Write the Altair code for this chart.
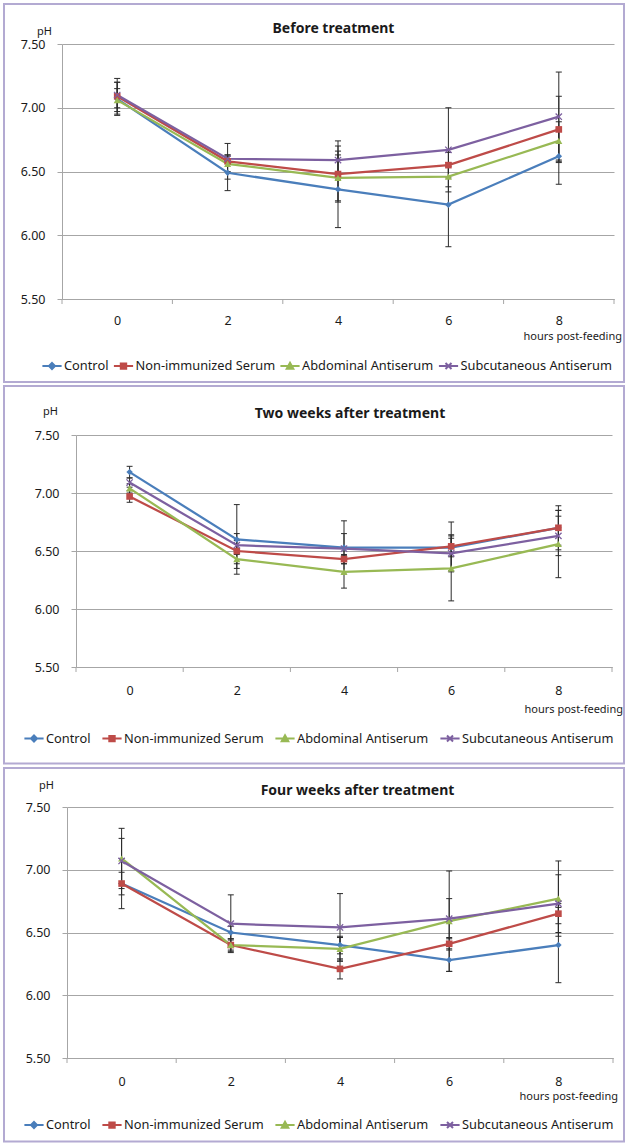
import altair as alt
import pandas as pd

# ---- data -------------------------------------------------------------
HOURS = [0, 2, 4, 6, 8]
SERIES = ["Control", "Non-immunized Serum", "Abdominal Antiserum", "Subcutaneous Antiserum"]
Y_TICKS = [5.5, 6.0, 6.5, 7.0, 7.5]

# mean rumen pH (rows follow SERIES order, columns follow HOURS)
BEFORE_MEAN = [
    [7.07, 6.49, 6.36, 6.24, 6.62],
    [7.09, 6.58, 6.48, 6.55, 6.83],
    [7.06, 6.56, 6.45, 6.46, 6.74],
    [7.10, 6.60, 6.59, 6.67, 6.93],
]
BEFORE_SD = [
    [0.13, 0.14, 0.30, 0.33, 0.22],
    [0.14, 0.14, 0.22, 0.10, 0.26],
    [0.09, 0.06, 0.18, 0.08, 0.15],
    [0.10, 0.03, 0.15, 0.33, 0.35],
]
TWO_WEEKS_MEAN = [
    [7.18, 6.60, 6.53, 6.53, 6.70],
    [6.97, 6.50, 6.43, 6.54, 6.70],
    [7.04, 6.43, 6.32, 6.35, 6.56],
    [7.09, 6.55, 6.52, 6.48, 6.63],
]
TWO_WEEKS_SD = [
    [0.05, 0.30, 0.23, 0.08, 0.15],
    [0.05, 0.15, 0.04, 0.21, 0.19],
    [0.04, 0.04, 0.14, 0.28, 0.29],
    [0.04, 0.04, 0.13, 0.16, 0.17],
]
FOUR_WEEKS_MEAN = [
    [6.89, 6.50, 6.40, 6.28, 6.40],
    [6.89, 6.40, 6.21, 6.41, 6.65],
    [7.09, 6.40, 6.37, 6.59, 6.77],
    [7.07, 6.57, 6.54, 6.61, 6.73],
]
FOUR_WEEKS_SD = [
    [0.09, 0.05, 0.07, 0.09, 0.30],
    [0.20, 0.05, 0.08, 0.05, 0.08],
    [0.24, 0.04, 0.09, 0.40, 0.30],
    [0.18, 0.23, 0.27, 0.16, 0.23],
]
TITLES = ["Before treatment", "Two weeks after treatment", "Four weeks after treatment"]

# ---- styling ----------------------------------------------------------
FONT = "Noto Sans"
COLORS = ["#4a7ebb", "#be4b48", "#98b954", "#7d60a0"]
GRID = "#a6a6a6"
FRAME = "#b3aad2"
ERR = "#2b2b2b"
TEXT = "#1a1a1a"

X_PATH = "M-1,-1L1,1M-1,1L1,-1"
MARKERS = [
    dict(shape="diamond", size=42, filled=True, strokeWidth=0),
    dict(shape="square", size=44, filled=True, strokeWidth=0),
    dict(shape="triangle-up", size=50, filled=True, strokeWidth=0),
    dict(shape=X_PATH, size=40, filled=False, strokeWidth=1.3),
]
# legend glyphs: short line with the series marker in the middle
STUB = "M-1.6,0L1.6,0"
LEGEND_SHAPES = [
    STUB + "M0,-0.5L0.5,0L0,0.5L-0.5,0Z",
    STUB + "M-0.45,-0.45L0.45,-0.45L0.45,0.45L-0.45,0.45Z",
    STUB + "M0,-0.55L0.55,0.45L-0.55,0.45Z",
    STUB + "M-0.5,-0.5L0.5,0.5M-0.5,0.5L0.5,-0.5",
]

BASE_LEFT = 62  # common origin of the stacked panels
# per-panel geometry (pixels relative to each plot area's top-left corner)
LAYOUT = [
    dict(left=62, w=552, h=255, fx0=-58, fx1=562, fy0=-40, fy1=338, tx=271.5, ty=-15.5,
         px=-10, py=-12.5, hx=560, hy=293, xpad=15, lx=-17, ly=315, cpad=0.5),
    dict(left=76, w=536, h=232, fx0=-72, fx1=548, fy0=-49, fy1=328.5, tx=274, ty=-21,
         px=-18, py=-23, hx=547, hy=275, xpad=17, lx=-49, ly=296.5, cpad=7),
    dict(left=67, w=546, h=251, fx0=-63, fx1=557, fy0=-39, fy1=334.5, tx=290.5, ty=-16.5,
         px=-13, py=-21.5, hx=551, hy=290, xpad=17, lx=-40, ly=311, cpad=7),
]


def panel(title, means, sds, g):
    a = g["left"] - BASE_LEFT  # shift of this plot area inside its view
    w, h = g["w"], g["h"]

    rows = []
    for s, m_row, sd_row in zip(SERIES, means, sds):
        for hr, m, sd in zip(HOURS, m_row, sd_row):
            rows.append({"Series": s, "Hours": hr, "pH": m,
                         "lo": round(m - sd, 3), "hi": round(m + sd, 3)})
    df = pd.DataFrame(rows)
    base = alt.Chart(df)

    def xenc(field):
        return alt.X(
            f"{field}:Q",
            scale=alt.Scale(domain=[-1, 9], range=[a, a + w], nice=False, zero=False),
            axis=alt.Axis(values=HOURS, title=None, grid=False, ticks=False,
                          domainColor=GRID, labelFont=FONT, labelFontSize=12.5,
                          labelColor=TEXT, labelAngle=0, labelPadding=g["xpad"]),
        )

    def yenc(field):
        return alt.Y(
            f"{field}:Q",
            scale=alt.Scale(domain=[5.5, 7.5], nice=False, zero=False),
            axis=alt.Axis(values=Y_TICKS, format=".2f", title=None, grid=True,
                          gridColor=GRID, tickColor=GRID, tickSize=5, domainColor=GRID,
                          labelPadding=12, labelFont=FONT, labelFontSize=12.5,
                          labelColor=TEXT, offset=-a),
        )

    def text_layer(label, x, y, size, weight="normal", align="center"):
        return alt.Chart(pd.DataFrame({"label": [label]})).mark_text(
            font=FONT, fontSize=size, fontWeight=weight, align=align,
            baseline="middle", color=TEXT,
        ).encode(text="label:N", x=alt.value(x + a), y=alt.value(y))

    x_ax = xenc("Hours")

    frame = alt.Chart(pd.DataFrame({"k": [0]})).mark_rect(
        fill="transparent", stroke=FRAME, strokeWidth=2
    ).encode(x=alt.value(g["fx0"] + a), x2=alt.value(g["fx1"] + a),
             y=alt.value(g["fy0"]), y2=alt.value(g["fy1"]))

    # tick marks between categories on the x axis
    bounds = [hr - 1 for hr in HOURS] + [HOURS[-1] + 1]
    xticks = alt.Chart(pd.DataFrame({"b": bounds})).mark_rule(
        color=GRID, strokeWidth=1
    ).encode(x=xenc("b"), y=alt.value(h), y2=alt.value(h + 5))

    err = base.mark_rule(color=ERR, strokeWidth=1).encode(
        x=x_ax, y=yenc("lo"), y2="hi:Q")
    caps = base.transform_fold(["lo", "hi"], as_=["end", "v"]).transform_calculate(
        xa="datum.Hours - 0.055", xb="datum.Hours + 0.055"
    ).mark_rule(color=ERR, strokeWidth=1).encode(x=xenc("xa"), x2="xb:Q", y=yenc("v"))

    series_layers = []
    for s, c in zip(SERIES, COLORS):
        sub = base.transform_filter(alt.datum.Series == s)
        series_layers.append(
            sub.mark_line(strokeWidth=2.25, color=c).encode(x=x_ax, y=yenc("pH")))
    for s, c, mk in zip(SERIES, COLORS, MARKERS):
        sub = base.transform_filter(alt.datum.Series == s)
        series_layers.append(
            sub.mark_point(opacity=1, color=c, **mk).encode(x=x_ax, y=yenc("pH")))

    leg = alt.Legend(
        title=None, orient="none", legendX=g["lx"] + a, legendY=g["ly"],
        direction="horizontal", padding=0, labelFont=FONT, labelFontSize=12.8,
        labelColor=TEXT, symbolSize=144, symbolStrokeWidth=2, symbolOpacity=1,
        labelOffset=5, columnPadding=g["cpad"],
    )
    legend_layer = base.transform_filter("datum.Hours < 0").mark_point(
        filled=True, opacity=1, strokeWidth=2
    ).encode(
        x=x_ax, y=yenc("pH"),
        fill=alt.Fill("Series:N", scale=alt.Scale(domain=SERIES, range=COLORS), legend=leg),
        stroke=alt.Stroke("Series:N", scale=alt.Scale(domain=SERIES, range=COLORS), legend=leg),
        shape=alt.Shape("Series:N", scale=alt.Scale(domain=SERIES, range=LEGEND_SHAPES), legend=leg),
    )

    labels = [
        text_layer(title, g["tx"], g["ty"], 14, weight="bold"),
        text_layer("pH", g["px"], g["py"], 11, align="right"),
        text_layer("hours post-feeding", g["hx"], g["hy"], 11, align="right"),
    ]

    return alt.layer(frame, xticks, err, caps, *series_layers, legend_layer, *labels).properties(
        width=a + w, height=h
    )


panels = [
    panel(TITLES[0], BEFORE_MEAN, BEFORE_SD, LAYOUT[0]),
    panel(TITLES[1], TWO_WEEKS_MEAN, TWO_WEEKS_SD, LAYOUT[1]),
    panel(TITLES[2], FOUR_WEEKS_MEAN, FOUR_WEEKS_SD, LAYOUT[2]),
]

chart = alt.vconcat(*panels, spacing=2).resolve_scale(
    fill="independent", stroke="independent", shape="independent"
).properties(
    padding={"left": 3, "top": 3, "right": 0, "bottom": 0},
    background="white",
).configure_view(stroke=None)

chart.save("out.html", embed_options={"renderer": "svg", "actions": False})
